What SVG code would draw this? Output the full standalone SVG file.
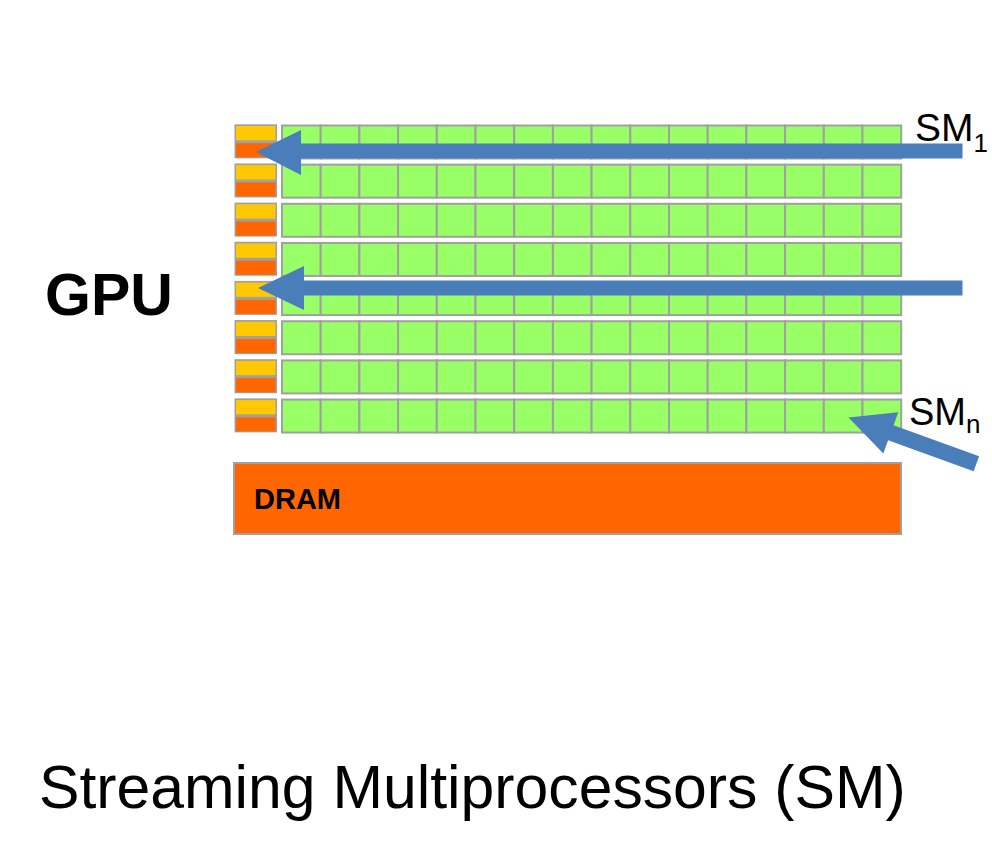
<svg xmlns="http://www.w3.org/2000/svg" xmlns:xlink="http://www.w3.org/1999/xlink" width="992" height="842" viewBox="0 0 992 842">
<style>
.cell{fill:#99ff66;stroke:#a0a0a0;stroke-width:2}
.box{fill:#a0a0a0}
.yel{fill:#ffc800}
.org{fill:#ff6600}
.arrow{fill:#4a7ebb}
.t{font-family:"Liberation Sans",Arial,sans-serif;fill:#000}
</style>
<defs>
<g id="row">
<rect class="box" x="234.5" y="-1.2" width="42.5" height="34"/>
<rect class="yel" x="236" y="0.5" width="39.5" height="14.3"/>
<rect class="org" x="236" y="17.8" width="39.5" height="14"/>
<rect class="cell" x="282" y="0" width="38.7" height="33"/>
<rect class="cell" x="320.7" y="0" width="38.7" height="33"/>
<rect class="cell" x="359.4" y="0" width="38.7" height="33"/>
<rect class="cell" x="398.1" y="0" width="38.7" height="33"/>
<rect class="cell" x="436.8" y="0" width="38.7" height="33"/>
<rect class="cell" x="475.5" y="0" width="38.7" height="33"/>
<rect class="cell" x="514.2" y="0" width="38.7" height="33"/>
<rect class="cell" x="552.9" y="0" width="38.7" height="33"/>
<rect class="cell" x="591.6" y="0" width="38.7" height="33"/>
<rect class="cell" x="630.3" y="0" width="38.7" height="33"/>
<rect class="cell" x="669" y="0" width="38.7" height="33"/>
<rect class="cell" x="707.7" y="0" width="38.7" height="33"/>
<rect class="cell" x="746.4" y="0" width="38.7" height="33"/>
<rect class="cell" x="785.1" y="0" width="38.7" height="33"/>
<rect class="cell" x="823.8" y="0" width="38.7" height="33"/>
<rect class="cell" x="862.5" y="0" width="38.7" height="33"/>
</g>
</defs>
<rect width="992" height="842" fill="#fff"/>
<g id="gpu-label"><text class="t" x="45" y="315" font-size="59" font-weight="bold">GPU</text></g>
<g id="sm-1"><use xlink:href="#row" transform="translate(0,125.5)"/></g>
<g id="sm-2"><use xlink:href="#row" transform="translate(0,164.65)"/></g>
<g id="sm-3"><use xlink:href="#row" transform="translate(0,203.8)"/></g>
<g id="sm-4"><use xlink:href="#row" transform="translate(0,242.95)"/></g>
<g id="sm-5"><use xlink:href="#row" transform="translate(0,282.1)"/></g>
<g id="sm-6"><use xlink:href="#row" transform="translate(0,321.25)"/></g>
<g id="sm-7"><use xlink:href="#row" transform="translate(0,360.4)"/></g>
<g id="sm-8"><use xlink:href="#row" transform="translate(0,399.55)"/></g>
<g id="dram">
<rect x="234" y="463" width="667" height="71" fill="#ff6600" stroke="#a0a0a0" stroke-width="2"/>
<text class="t" x="254" y="509" font-size="29" font-weight="bold">DRAM</text>
</g>
<g id="connectors">
<path class="arrow" d="M256,152 L301,130 L301,143.5 L962.5,143.5 L962.5,158.5 L301,158.5 L301,175 Z"/>
<path class="arrow" d="M258,288 L304,266 L304,280.5 L962.5,280.5 L962.5,295.5 L304,295.5 L304,310 Z"/>
<path class="arrow" d="M0,0 L45,-22 L45,-8 L136,-8 L136,8 L45,8 L45,22 Z" transform="translate(848.5,417.5) rotate(19.9)"/>
</g>
<g id="sm1-label"><text class="t" x="915" y="141" font-size="39">SM<tspan font-size="26" dy="11">1</tspan></text></g>
<g id="smn-label"><text class="t" x="909" y="425" font-size="38">SM<tspan font-size="26" dy="8">n</tspan></text></g>
<g id="title"><text class="t" x="39" y="808" font-size="60.7">Streaming Multiprocessors (SM)</text></g>
</svg>
